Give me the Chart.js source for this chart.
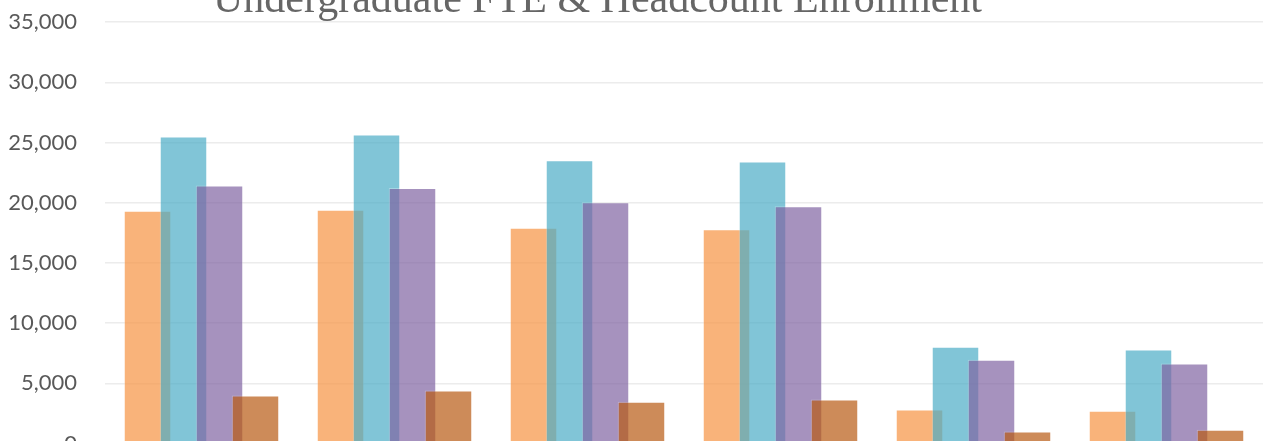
<!DOCTYPE html>
<html>
<head>
<meta charset="utf-8">
<script src="https://cdn.jsdelivr.net/npm/chart.js@4.4.1/dist/chart.umd.min.js"></script>
<style>
  html, body { margin: 0; padding: 0; background: #ffffff; overflow: hidden; width: 1266px; height: 441px; }
  #wrap { position: absolute; left: -68px; top: 0; width: 1331px; height: 480px; }
</style>
</head>
<body>
<div id="wrap"><canvas id="c"></canvas></div>
<script>
// ---- data ----
const titleText = 'Undergraduate FTE & Headcount Enrollment';
const categories = ['Year 1', 'Year 2', 'Year 3', 'Year 4', 'Year 5', 'Year 6'];
const seriesNames = ['FTE', 'Headcount', 'Full-Time', 'Part-Time'];
const fteValues       = [19330, 19410, 17910, 17800, 2820, 2720];
const headcountValues = [25500, 25660, 23530, 23420, 8030, 7810];
const fullTimeValues  = [21430, 21210, 20040, 19710, 6950, 6640];
const partTimeValues  = [3990, 4400, 3460, 3650, 1000, 1140];
const yTicks = { min: 0, max: 35000, step: 5000 };

const colors = [
  'rgba(247,150,70,0.72)',
  'rgba(75,172,198,0.70)',
  'rgba(128,100,162,0.70)',
  'rgba(184,90,18,0.70)'
];
const seriesValues = [fteValues, headcountValues, fullTimeValues, partTimeValues];

// draw datasets in forward order so later series sit on top of earlier ones
const forwardOrder = {
  id: 'forwardOrder',
  beforeDatasetsDraw(chart) {
    const metas = chart.getSortedVisibleDatasetMetas();
    for (const m of metas) {
      if (typeof chart._drawDataset === 'function') chart._drawDataset(m);
      else m.controller.draw();
    }
    return false;
  }
};

const ctx = document.getElementById('c').getContext('2d');
const chart = new Chart(ctx, {
  type: 'bar',
  data: {
    labels: categories,
    datasets: seriesNames.map((name, i) => ({
      label: name,
      data: seriesValues[i],
      backgroundColor: colors[i],
      borderColor: 'rgba(255,255,255,0.28)',
      borderWidth: 1,
      categoryPercentage: 0.746,
      barPercentage: 1.32
    }))
  },
  options: {
    responsive: true,
    maintainAspectRatio: false,
    animation: false,
    layout: { padding: { left: 0, right: 0, top: 0, bottom: 0 } },
    plugins: {
      legend: { display: false },
      tooltip: { enabled: false },
      title: {
        display: true,
        text: titleText,
        color: '#666666',
        font: { family: "'Liberation Serif', 'DejaVu Serif', serif", size: 42, weight: 'normal', lineHeight: 1 },
        padding: { top: 0, bottom: 0 }
      }
    },
    scales: {
      x: {
        ticks: { display: false },
        grid: { display: false },
        border: { display: false }
      },
      y: {
        min: yTicks.min,
        max: yTicks.max,
        afterFit(scale) { scale.width = 173; },
        ticks: {
          stepSize: yTicks.step,
          padding: 28,
          color: '#595959',
          font: { family: "Lato, 'Open Sans', sans-serif", size: 22 }
        },
        grid: { color: '#ececec', lineWidth: 1.4, drawTicks: false },
        border: { display: false }
      }
    }
  },
  plugins: [forwardOrder]
});

// fit the plot area to the reference frame (0 line just below the window)
const wrap = document.getElementById('wrap');
const TARGET_TOP = 21.5, TARGET_BOTTOM = 443;
let a = chart.chartArea;
const delta = (TARGET_BOTTOM - TARGET_TOP) - (a.bottom - a.top);
wrap.style.height = (wrap.offsetHeight + delta) + 'px';
chart.resize();
a = chart.chartArea;
wrap.style.top = (TARGET_TOP - a.top) + 'px';
</script>
</body>
</html>
